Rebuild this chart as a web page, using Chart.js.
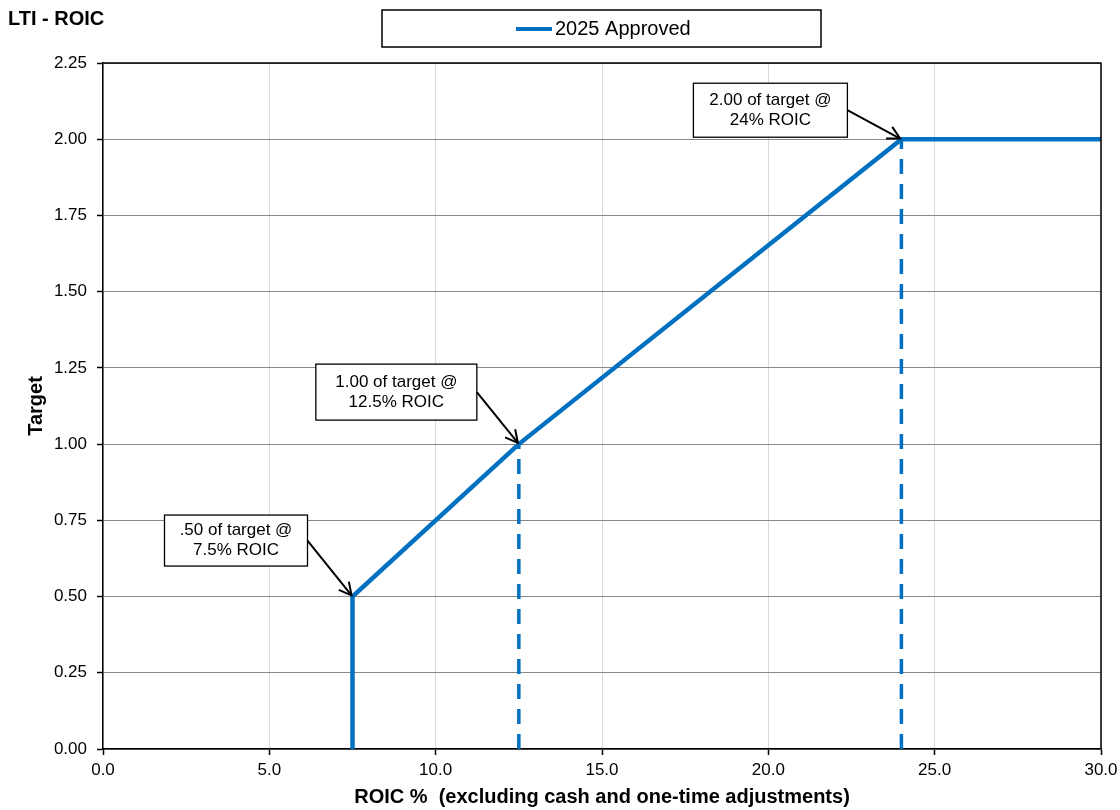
<!DOCTYPE html>
<html>
<head>
<meta charset="utf-8">
<title>LTI - ROIC</title>
<script src="https://cdn.jsdelivr.net/npm/chart.js@4.4.1/dist/chart.umd.min.js"></script>
<style>
  html, body { margin: 0; padding: 0; background: #fff; }
  #wrap { width: 1120px; height: 810px; position: relative; }
</style>
</head>
<body>
<div id="wrap"><canvas id="c" width="1120" height="810"></canvas></div>
<script>
// Payout curve: ROIC % -> multiple of target
const seriesName = '2025 Approved';
const curveRoic = [7.5, 7.5, 12.5, 24, 30];
const curveTarget = [0, 0.5, 1.0, 2.0, 2.0];

// Drop lines from the 1.00 and 2.00 breakpoints to the axis
const drop1Roic = [12.5, 12.5];
const drop1Target = [0, 1.0];
const drop2Roic = [24, 24];
const drop2Target = [0, 2.0];

// Callouts on the breakpoints
const calloutRoic = [7.5, 12.5, 24];
const calloutTarget = [0.5, 1.0, 2.0];
const calloutText = [
  ['.50 of target @', '7.5% ROIC'],
  ['1.00 of target @', '12.5% ROIC'],
  ['2.00 of target @', '24% ROIC']
];

// Axis ranges
const xMin = 0, xMax = 30, xStep = 5;
const yMin = 0, yMax = 2.25, yStep = 0.25;

const pts = (xs, ys) => xs.map((x, i) => ({ x: x, y: ys[i] }));

const BLUE = '#0070C0';
const FONT = "'Liberation Sans', Arial, sans-serif";

// Callout box geometry, relative to the anchor point (box right-middle offset)
const calloutBoxes = [
  { dx: -45, dy: -56, w: 143, h: 51 },
  { dx: -42, dy: -52, w: 161, h: 56 },
  { dx: -54, dy: -29, w: 154, h: 54 }
];

const decorPlugin = {
  id: 'decor',
  afterDraw(chart) {
    const ctx = chart.ctx;
    const a = chart.chartArea;
    const xs = chart.scales.x, ys = chart.scales.y;
    ctx.save();

    // frame on the top and right of the plot
    ctx.strokeStyle = '#000';
    ctx.lineWidth = 1.5;
    ctx.beginPath();
    ctx.moveTo(a.left, a.top);
    ctx.lineTo(a.right, a.top);
    ctx.lineTo(a.right, a.bottom);
    ctx.stroke();

    // chart title
    ctx.fillStyle = '#000';
    ctx.font = 'bold 20px ' + FONT;
    ctx.textAlign = 'left';
    ctx.textBaseline = 'alphabetic';
    ctx.fillText('LTI - ROIC', 8, 25);

    // legend
    ctx.lineWidth = 1.5;
    ctx.strokeStyle = '#000';
    ctx.fillStyle = '#fff';
    ctx.fillRect(382, 10, 439, 37);
    ctx.strokeRect(382, 10, 439, 37);
    ctx.strokeStyle = BLUE;
    ctx.lineWidth = 4;
    ctx.beginPath();
    ctx.moveTo(516, 29);
    ctx.lineTo(552, 29);
    ctx.stroke();
    ctx.fillStyle = '#000';
    ctx.font = '20px ' + FONT;
    ctx.textBaseline = 'middle';
    ctx.fillText(chart.data.datasets[0].label, 555, 29);

    // callouts
    ctx.font = '17px ' + FONT;
    calloutRoic.forEach((rx, i) => {
      const px = xs.getPixelForValue(rx);
      const py = ys.getPixelForValue(calloutTarget[i]);
      const b = calloutBoxes[i];
      const bx = px + b.dx, by = py + b.dy;
      const left = bx - b.w, top = by - b.h / 2;

      ctx.fillStyle = '#fff';
      ctx.fillRect(left, top, b.w, b.h);
      ctx.strokeStyle = '#000';
      ctx.lineWidth = 1.3;
      ctx.strokeRect(left, top, b.w, b.h);

      ctx.fillStyle = '#000';
      ctx.textAlign = 'center';
      ctx.textBaseline = 'middle';
      const lines = calloutText[i];
      const lh = 20;
      lines.forEach((t, k) => {
        ctx.fillText(t, left + b.w / 2, top + b.h / 2 + (k - (lines.length - 1) / 2) * lh);
      });

      // arrow
      const ang = Math.atan2(py - by, px - bx);
      const ex = px - Math.cos(ang) * 1.5, ey = py - Math.sin(ang) * 1.5;
      ctx.lineWidth = 2;
      ctx.beginPath();
      ctx.moveTo(bx, by);
      ctx.lineTo(ex, ey);
      ctx.stroke();
      const hl = 14, ha = Math.PI / 6.5;
      ctx.beginPath();
      ctx.moveTo(ex - hl * Math.cos(ang - ha), ey - hl * Math.sin(ang - ha));
      ctx.lineTo(ex, ey);
      ctx.lineTo(ex - hl * Math.cos(ang + ha), ey - hl * Math.sin(ang + ha));
      ctx.stroke();
    });

    ctx.restore();
  }
};

const dropStyle = {
  borderColor: BLUE,
  borderWidth: 3.5,
  borderDash: [15, 10],
  pointRadius: 0,
  showLine: true,
  fill: false,
  tension: 0
};

new Chart(document.getElementById('c'), {
  type: 'scatter',
  data: {
    datasets: [
      {
        label: seriesName,
        data: pts(curveRoic, curveTarget),
        borderColor: BLUE,
        backgroundColor: BLUE,
        borderWidth: 4.5,
        pointRadius: 0,
        showLine: true,
        fill: false,
        tension: 0,
        borderCapStyle: 'butt',
        borderJoinStyle: 'miter'
      },
      Object.assign({ label: 'drop1', data: pts(drop1Roic, drop1Target) }, dropStyle),
      Object.assign({ label: 'drop2', data: pts(drop2Roic, drop2Target) }, dropStyle)
    ]
  },
  options: {
    responsive: false,
    animation: false,
    layout: { padding: { left: 0, top: 63, right: 19, bottom: 0 } },
    plugins: {
      legend: { display: false },
      tooltip: { enabled: false },
      title: { display: false }
    },
    scales: {
      x: {
        type: 'linear',
        min: xMin, max: xMax,
        afterFit(s) { s.height = 61; s.paddingLeft = 0; s.paddingRight = 0; },
        ticks: {
          stepSize: xStep,
          color: '#000',
          font: { family: FONT, size: 17 },
          padding: 5,
          maxRotation: 0,
          callback: v => Number(v).toFixed(1)
        },
        grid: {
          color: '#d9d9d9',
          lineWidth: 1,
          drawTicks: true,
          tickLength: 6,
          tickColor: '#000',
          tickWidth: 1.5
        },
        border: { color: '#000', width: 1.5 },
        title: {
          display: true,
          text: 'ROIC %  (excluding cash and one-time adjustments)',
          color: '#000',
          font: { family: FONT, size: 20, weight: 'bold' },
          padding: { top: 0, bottom: 1 }
        }
      },
      y: {
        type: 'linear',
        min: yMin, max: yMax,
        afterFit(s) { s.width = 103; s.paddingTop = 0; s.paddingBottom = 0; },
        ticks: {
          stepSize: yStep,
          color: '#000',
          font: { family: FONT, size: 17 },
          padding: 10,
          callback: v => Number(v).toFixed(2)
        },
        grid: {
          color: '#878787',
          lineWidth: 1,
          drawTicks: true,
          tickLength: 6,
          tickColor: '#000',
          tickWidth: 1.5
        },
        border: { color: '#000', width: 1.5 },
        title: {
          display: true,
          text: 'Target',
          color: '#000',
          font: { family: FONT, size: 20, weight: 'bold' },
          padding: { top: 24, bottom: 0 }
        }
      }
    }
  },
  plugins: [decorPlugin]
});
</script>
</body>
</html>
